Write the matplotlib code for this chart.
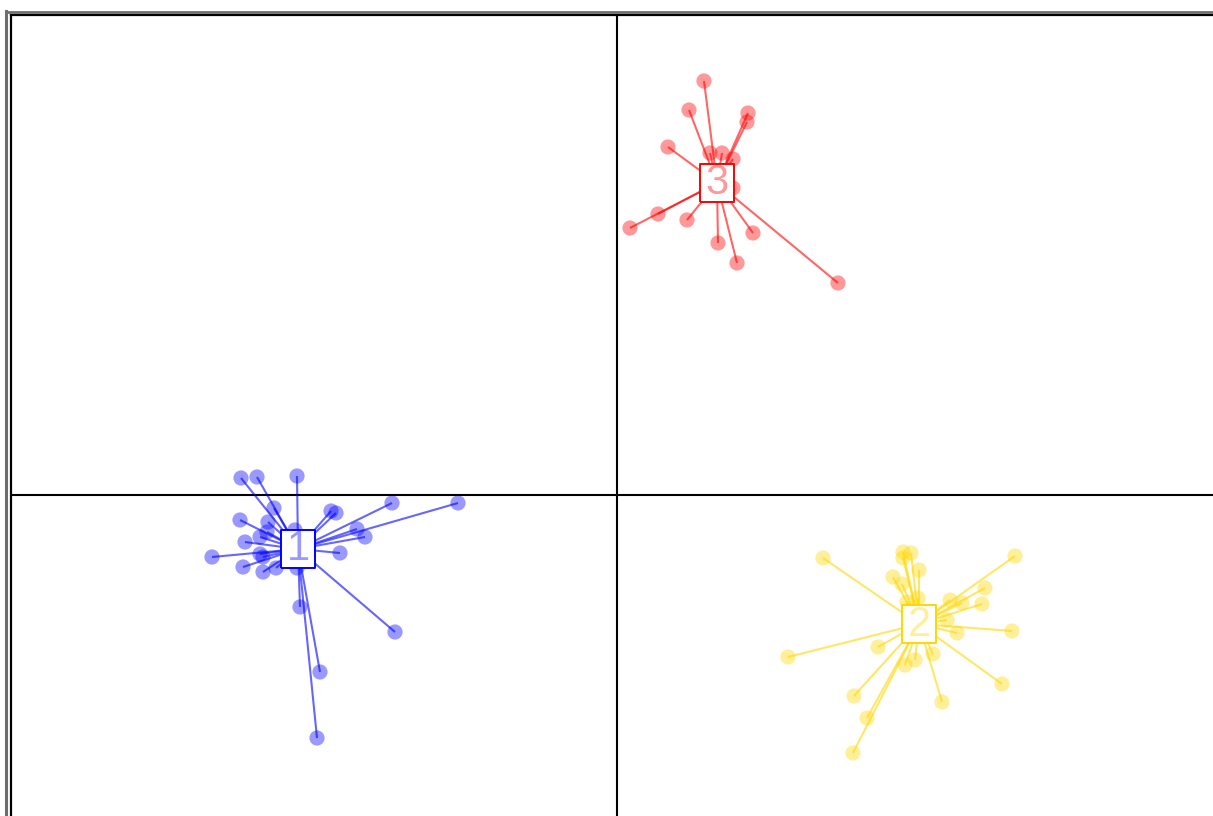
import matplotlib
matplotlib.use("Agg")
import matplotlib.pyplot as plt
from matplotlib.lines import Line2D
import numpy as np

# Cluster member coordinates (Dim1, Dim2)
c1_x = [-3.76, -3.60, -3.20, -2.25, -1.59, -3.43, -2.86, -2.81, -3.77, -3.49, -2.60,
        -2.52, -3.50, -3.57, -3.72, -3.22, -2.77, -4.05, -3.57, -3.54, -3.74, -3.54,
        -3.41, -3.20, -3.17, -2.22, -2.97, -3.00]
c1_y = [0.17, 0.18, 0.19, -0.08, -0.08, -0.13, -0.16, -0.18, -0.25, -0.27, -0.34,
        -0.42, -0.37, -0.42, -0.47, -0.35, -0.58, -0.62, -0.59, -0.62, -0.72, -0.77,
        -0.73, -0.73, -1.12, -1.37, -1.77, -2.43]
c2_x = [2.06, 2.86, 2.94, 2.86, 3.98, 3.02, 2.76, 2.85, 3.68, 3.01, 2.90, 3.33,
        3.45, 3.65, 3.30, 3.40, 3.95, 1.71, 2.61, 2.88, 2.98, 3.16, 3.85, 2.37,
        3.25, 2.50, 2.36]
c2_y = [-0.63, -0.57, -0.58, -0.63, -0.61, -0.75, -0.82, -0.89, -0.93, -1.03, -1.07,
        -1.05, -1.08, -1.09, -1.25, -1.38, -1.36, -1.62, -1.52, -1.70, -1.65, -1.59,
        -1.89, -2.01, -2.07, -2.23, -2.58]
c3_x = [0.87, 0.72, 1.31, 1.30, 0.51, 0.93, 1.05, 1.16, 0.41, 0.13, 0.70, 1.01,
        1.36, 1.20, 2.21, 1.16]
c3_y = [4.14, 3.85, 3.82, 3.73, 3.48, 3.42, 3.42, 3.36, 2.81, 2.67, 2.75, 2.52,
        2.62, 2.32, 2.12, 3.07]

centers_x = [-3.19, 3.02, 1.00]
centers_y = [-0.54, -1.29, 3.12]
cluster_labels = ["1", "2", "3"]
colors = ["#0000FF", "#FFD700", "#FF0000"]

members = [(c1_x, c1_y), (c2_x, c2_y), (c3_x, c3_y)]

W, H = 1213, 816
fig = plt.figure(figsize=(W / 100, H / 100), dpi=100)
left_px, top_px = 11, 15
ax = fig.add_axes([left_px / W, 0, 1 - left_px / W, (H - top_px) / H])
ax.set_xlim(-6.06, 5.96)
ax.set_ylim(-3.21, 4.80)
ax.set_xticks([])
ax.set_yticks([])
for s in ["right", "bottom"]:
    ax.spines[s].set_visible(False)
for s in ["left", "top"]:
    ax.spines[s].set_linewidth(1.6)
    ax.spines[s].set_color("black")

ax.axhline(0, color="black", lw=1.5, zorder=1)
ax.axvline(0, color="black", lw=1.5, zorder=1)

box_marker = [(-33, -37), (33, -37), (33, 37), (-33, 37), (-33, -37)]

for (xs, ys), cx, cy, col, lab in zip(members, centers_x, centers_y, colors, cluster_labels):
    ax.scatter(xs, ys, s=120, color=col, alpha=0.4, edgecolors="none", zorder=2)
    for x, y in zip(xs, ys):
        ax.plot([x, cx], [y, cy], color=col, alpha=0.6, lw=1.5, zorder=3,
                solid_capstyle="butt")
    ax.plot([cx], [cy], marker=box_marker, markersize=27, markerfacecolor="white",
            markeredgecolor=col, markeredgewidth=1.4, zorder=4)
    ax.text(cx, cy - 0.005, lab, ha="center", va="center", fontsize=30, color=col,
            alpha=0.4, family="Liberation Sans", zorder=5)

# outer gray frame lines
fig.add_artist(Line2D([6 / W, 6 / W], [0, 1 - 11 / H], color="#6e6e6e", lw=2.2,
                      transform=fig.transFigure))
fig.add_artist(Line2D([6 / W, 1], [1 - 12 / H, 1 - 12 / H], color="#6e6e6e", lw=2.0,
                      transform=fig.transFigure))

fig.savefig("out.png", dpi=100)
